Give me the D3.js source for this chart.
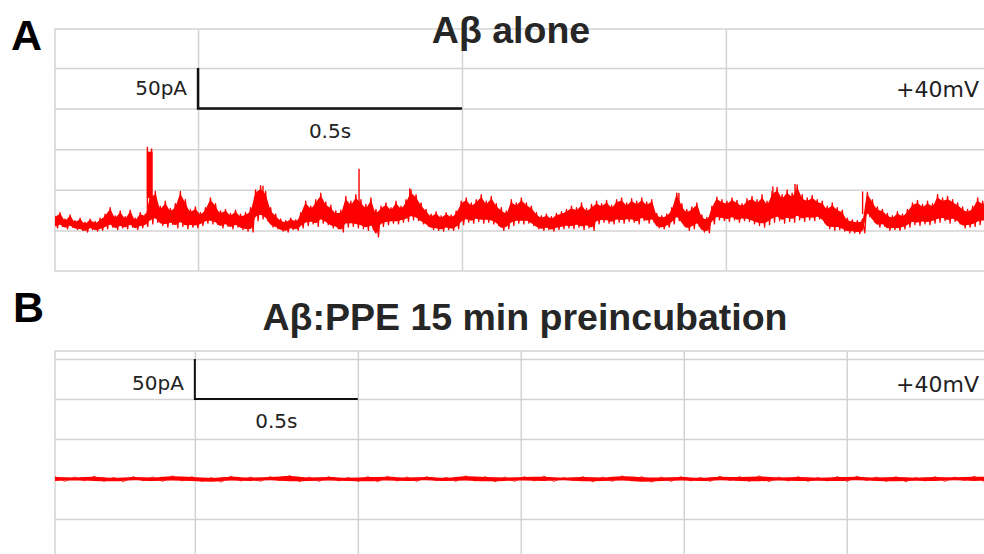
<!DOCTYPE html>
<html>
<head>
<meta charset="utf-8">
<script src="https://cdn.jsdelivr.net/npm/d3@7/dist/d3.min.js"></script>
<style>
  html, body { margin: 0; padding: 0; background: #fff; }
  svg { display: block; }
</style>
</head>
<body>
<div id="chart"></div>
<script>
// Panel A: A-beta alone, envelope of the current trace (pA), one sample every traceADt seconds
const traceADt = 0.0095;
const traceAHi = [
  18,22,14,19,12,15,10,14,11,15,
  20,28,18,24,17,25,15,22,20,45,
  48,30,36,27,33,48,38,26,29,22,
  28,40,33,24,26,21,25,20,22,28,
  50,55,48,28,20,14,12,15,13,22,
  36,30,38,46,35,31,24,25,42,36,
  44,38,32,40,26,30,34,28,36,30,
  38,50,44,34,26,20,23,18,22,19,
  24,36,40,34,38,44,36,42,33,28,
  24,38,34,40,34,30,22,18,20,17,
  21,23,26,30,28,34,27,32,36,33,
  37,31,38,40,34,39,36,40,35,38,
  21,18,20,28,46,33,26,29,34,19,
  16,30,41,38,36,40,37,33,39,42,
  38,44,36,48,53,44,50,46,56,44,
  40,43,38,36,30,34,28,25,15,13,
  12,14,47,38,29,26,21,18,23,20,
  26,34,37,32,36,33,44,40,42,38,
  34,29,26,30,40,36,38
];
const traceALo = [
  3,5,2,4,1,0,-2,1,-1,0,
  2,4,1,3,2,4,1,3,5,8,
  10,6,4,7,3,5,2,4,3,6,
  9,8,7,3,5,2,4,1,-1,-2,
  12,14,11,4,2,-1,-2,1,0,3,
  6,8,5,9,7,3,2,-2,4,5,
  3,2,0,1,-8,5,7,9,8,10,
  11,13,12,8,5,1,0,-1,1,0,
  2,7,10,9,11,9,10,8,6,0,
  2,6,9,8,9,6,2,0,1,-1,
  1,2,3,2,4,1,3,0,8,10,
  9,8,10,9,11,10,8,12,9,10,
  3,2,4,8,12,6,0,2,5,-2,
  -3,8,13,12,11,13,10,12,11,8,
  6,4,7,10,12,9,11,10,13,11,
  13,12,14,10,2,0,1,-1,-3,-3,
  -4,-3,17,10,4,5,0,1,0,2,
  4,7,6,8,7,9,10,12,9,11,
  8,3,4,5,7,9,7
];
// brief openings (s, pA) and the long opening near the start [start s, end s, low pA, high pA]
const spikeTimesA = [0.175, 0.183, 0.394, 0.576, 0.672, 1.182, 1.360, 1.402, 1.530];
const spikeTopsA  = [103, 101, 55, 76, 52, 46, 54, 57, 48];
const pulseA = [0.174, 0.185, 40, 97];

// Panel B: A-beta:PPE, flat trace
const traceBDt = 0.06;
const traceBHi = [
  3,2.5,3.5,2,3,2.5,4,3,2,3.5,
  2.5,3,4.5,2.5,3,2,3,3.5,2.5,3,
  2,4,3,2.5,3,3.5,2,3,2.5,4,
  3,2.5,3,2,3.5,3,4,2.5,3,2,
  3,3.5,2.5,3,2,3,2.5,3.5,3
];
const traceBLo = [
  -3,-2.5,-3,-3.5,-2,-3,-2.5,-3,-4,-2.5,
  -3,-2,-3.5,-3,-2.5,-3,-3.5,-2.5,-3,-2,
  -3,-2.5,-3.5,-3,-2.5,-3,-2,-3.5,-3,-2.5,
  -4,-3,-2.5,-3,-2,-3,-3.5,-2.5,-3,-2.5,
  -3,-2,-3,-3.5,-2.5,-3,-2,-3,-2.5
];

// grid values (s, pA) and scale bars [time s, current pA]
const gridTimesA = [0.271, 0.771, 1.271];
const gridCurrentA = [0, 50, 100, 150, 200];
const gridTimesB = [0.429, 0.929, 1.429, 1.929, 2.429];
const gridCurrentB = [-50, 0, 50, 100, 150];
const scaleBarA = [0.271, 150];
const scaleBarB = [0.429, 100];
const barTime = 0.5;
const barCurrent = 50;

const WIDTH = 984, HEIGHT = 554;
const GRID = '#d3d3d3';
const TRACE = '#ff0000';
const LABEL_FONT = 'DejaVu Sans, sans-serif';
const TITLE_FONT = 'Liberation Sans, Arial, sans-serif';

const svg = d3.select('#chart').append('svg')
  .attr('width', WIDTH)
  .attr('height', HEIGHT);

svg.append('rect').attr('width', WIDTH).attr('height', HEIGHT).attr('fill', '#fff');

function drawPanel(p) {
  const x = d3.scaleLinear().domain(p.xDomain).range([p.left, p.right]);
  const y = d3.scaleLinear().domain(p.yDomain).range([p.bottom, p.top]);
  const g = svg.append('g');

  // vertical grid
  g.append('g')
    .attr('transform', 'translate(0,' + p.bottom + ')')
    .call(d3.axisBottom(x).tickValues(p.gridT).tickSize(-(p.bottom - p.top)).tickFormat(''))
    .call(a => a.select('.domain').remove())
    .selectAll('line').attr('stroke', GRID).attr('stroke-width', 1.5);

  // horizontal grid
  g.append('g')
    .attr('transform', 'translate(' + p.left + ',0)')
    .call(d3.axisLeft(y).tickValues(p.gridI).tickSize(-(p.right - p.left)).tickFormat(''))
    .call(a => a.select('.domain').remove())
    .selectAll('line').attr('stroke', GRID).attr('stroke-width', 1.5);

  // frame (right side runs off the page)
  g.append('rect')
    .attr('x', p.left).attr('y', p.top)
    .attr('width', p.right - p.left + 20).attr('height', p.bottom - p.top)
    .attr('fill', 'none').attr('stroke', GRID).attr('stroke-width', 1.5);

  // trace
  const clipId = 'clip-' + p.id;
  svg.append('clipPath').attr('id', clipId)
    .append('rect').attr('x', p.left).attr('y', p.top)
    .attr('width', p.right - p.left).attr('height', p.bottom - p.top);

  const trace = p.hi.map((hi, i) => ({ t: i * p.dt, hi: hi, lo: p.lo[i] }));
  const tg = g.append('g').attr('clip-path', 'url(#' + clipId + ')');

  // solid core of the noise band
  const k = p.coreInset;
  tg.append('path')
    .datum(trace)
    .attr('fill', TRACE)
    .attr('d', d3.area()
      .curve(d3.curveMonotoneX)
      .x(d => x(d.t))
      .y0(d => y(d.lo + (d.hi - d.lo) * k))
      .y1(d => y(d.hi - (d.hi - d.lo) * k)));

  // the sampled trace itself, swinging between the peak and trough of each sample
  const points = trace.flatMap(d => [[d.t, d.hi], [d.t + p.dt / 2, d.lo]]);
  tg.append('path')
    .datum(points)
    .attr('fill', 'none')
    .attr('stroke', TRACE)
    .attr('stroke-width', p.lineWidth)
    .attr('stroke-linejoin', 'round')
    .attr('d', d3.line().x(d => x(d[0])).y(d => y(d[1])));

  if (p.pulse) {
    tg.append('rect')
      .attr('x', x(p.pulse[0]))
      .attr('width', x(p.pulse[1]) - x(p.pulse[0]))
      .attr('y', y(p.pulse[3]))
      .attr('height', y(p.pulse[2]) - y(p.pulse[3]))
      .attr('fill', TRACE);
  }
  if (p.spikeT) {
    tg.selectAll('.spike')
      .data(p.spikeT)
      .join('line')
      .attr('class', 'spike')
      .attr('x1', d => x(d)).attr('x2', d => x(d))
      .attr('y1', y(20))
      .attr('y2', (d, i) => y(p.spikeTop[i]))
      .attr('stroke', TRACE)
      .attr('stroke-width', 1.4);
  }

  // scale bar
  const [bt, bi] = p.bar;
  g.append('path')
    .attr('d', d3.line()([
      [x(bt), y(bi + barCurrent)],
      [x(bt), y(bi)],
      [x(bt + barTime), y(bi)]
    ]))
    .attr('fill', 'none')
    .attr('stroke', '#111')
    .attr('stroke-width', p.barWidth);

  g.append('text')
    .attr('x', x(bt) - 11).attr('y', p.pAy)
    .attr('text-anchor', 'end')
    .attr('font-family', LABEL_FONT)
    .attr('font-size', 20)
    .attr('fill', '#222')
    .text(barCurrent + 'pA');

  g.append('text')
    .attr('x', x(bt + barTime / 2)).attr('y', p.sy)
    .attr('text-anchor', 'middle')
    .attr('font-family', LABEL_FONT)
    .attr('font-size', 20)
    .attr('fill', '#222')
    .text(barTime + 's');

  g.append('text')
    .attr('x', 979).attr('y', p.mVy)
    .attr('text-anchor', 'end')
    .attr('font-family', LABEL_FONT)
    .attr('font-size', 22)
    .attr('fill', '#222')
    .text('+40mV');

  // title and panel letter
  g.append('text')
    .attr('x', p.titleX).attr('y', p.titleY)
    .attr('text-anchor', 'middle')
    .attr('font-family', TITLE_FONT)
    .attr('font-weight', 'bold')
    .attr('font-size', 37.5)
    .attr('fill', '#262626')
    .text(p.title);

  g.append('text')
    .attr('x', p.letterX).attr('y', p.letterY)
    .attr('font-family', TITLE_FONT)
    .attr('font-weight', 'bold')
    .attr('font-size', 43)
    .attr('fill', '#000')
    .text(p.letter);
}

drawPanel({
  id: 'a', letter: 'A', title: 'Aβ alone',
  left: 55, right: 984, top: 29, bottom: 271,
  xDomain: [0, 1.76], yDomain: [-50, 248],
  gridT: gridTimesA, gridI: gridCurrentA,
  hi: traceAHi, lo: traceALo, dt: traceADt, lineWidth: 1.3, coreInset: 0.12,
  pulse: pulseA, spikeT: spikeTimesA, spikeTop: spikeTopsA,
  bar: scaleBarA, barWidth: 2.5,
  pAy: 95, sy: 138, mVy: 97,
  titleX: 511, titleY: 43, letterX: 11, letterY: 50
});

drawPanel({
  id: 'b', letter: 'B', title: 'Aβ:PPE 15 min preincubation',
  left: 55, right: 984, top: 351, bottom: 559,
  xDomain: [0, 2.85], yDomain: [-100, 160],
  gridT: gridTimesB, gridI: gridCurrentB,
  hi: traceBHi, lo: traceBLo, dt: traceBDt, lineWidth: 0.8, coreInset: 0.1,
  bar: scaleBarB, barWidth: 2,
  pAy: 390, sy: 428, mVy: 392,
  titleX: 525, titleY: 330, letterX: 13, letterY: 322
});
</script>
</body>
</html>
